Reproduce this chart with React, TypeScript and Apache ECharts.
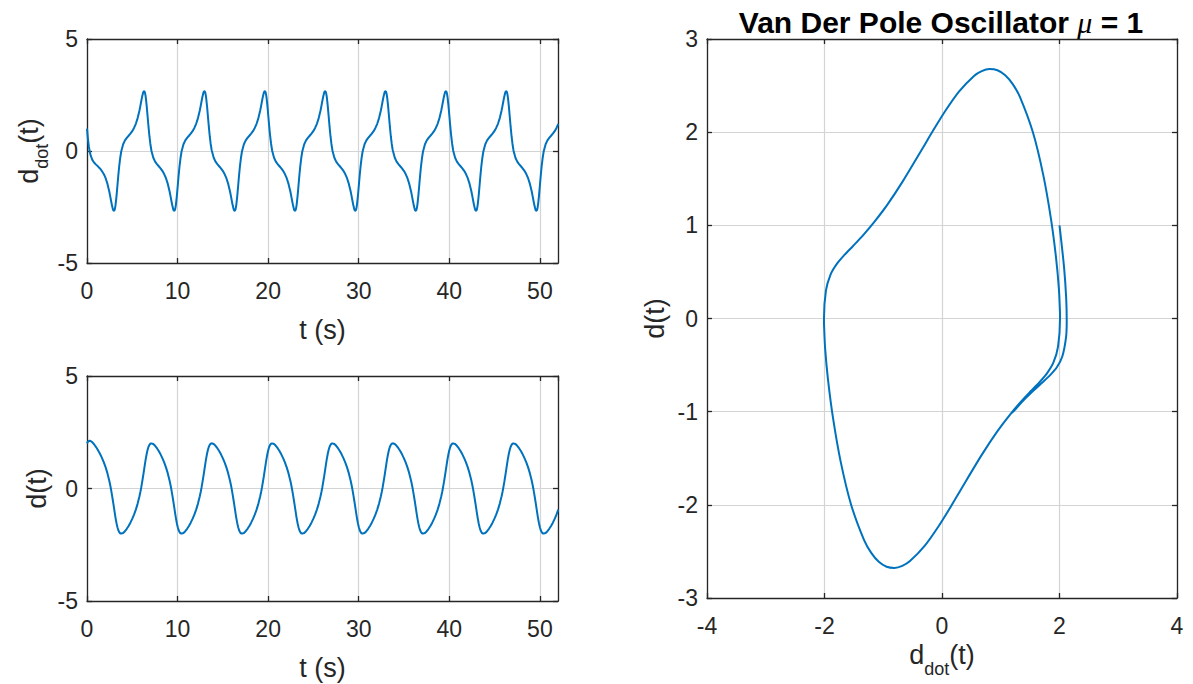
import { useEffect, useRef } from 'react';
import * as echarts from 'echarts';

// ---- data (Van der Pol, mu = 1, d(0)=2, d_dot(0)=1) ----
// start-up part of the trajectory (time, d, d_dot)
const transientT = [0, 0.1, 0.2, 0.3, 0.4, 0.6, 0.8, 1.0, 1.2, 1.4, 1.6, 1.8];
const transientD = [2.0, 2.077, 2.114, 2.123, 2.112, 2.049, 1.955, 1.841, 1.712, 1.567, 1.404, 1.218];
const transientV = [1.0, 0.554, 0.216, -0.027, -0.198, -0.406, -0.524, -0.608, -0.685, -0.768, -0.868, -0.996];

// one period of the limit cycle, phase measured from the maximum of d
const cyclePhase = [
  0, 0.2, 0.4, 0.6, 0.8, 1.0, 1.2, 1.4, 1.6, 1.8, 2.0, 2.1, 2.2, 2.3, 2.4, 2.45, 2.5, 2.55, 2.6, 2.65, 2.7, 2.8, 2.9,
  3.0, 3.1, 3.2, 3.3,
  3.332, 3.532, 3.732, 3.932, 4.132, 4.332, 4.532, 4.732, 4.932, 5.132, 5.332, 5.432, 5.532, 5.632, 5.732, 5.782,
  5.832, 5.882, 5.932, 5.982, 6.032, 6.132, 6.232, 6.332, 6.432, 6.532, 6.632,
];
const cycleD = [
  2.009, 1.975, 1.897, 1.79, 1.664, 1.518, 1.352, 1.162, 0.938, 0.671, 0.345, 0.154, -0.058, -0.292, -0.545, -0.676,
  -0.81, -0.943, -1.076, -1.204, -1.326, -1.546, -1.724, -1.854, -1.94, -1.989, -2.008,
  -2.009, -1.975, -1.897, -1.79, -1.664, -1.518, -1.352, -1.162, -0.938, -0.671, -0.345, -0.154, 0.058, 0.292,
  0.545, 0.676, 0.81, 0.943, 1.076, 1.204, 1.326, 1.546, 1.724, 1.854, 1.94, 1.989, 2.008,
];
const cycleV = [
  0, -0.301, -0.472, -0.586, -0.68, -0.776, -0.887, -1.028, -1.214, -1.469, -1.811, -2.015, -2.23, -2.438, -2.604,
  -2.656, -2.678, -2.665, -2.612, -2.516, -2.379, -2.001, -1.539, -1.073, -0.659, -0.324, -0.067,
  0, 0.301, 0.472, 0.586, 0.68, 0.776, 0.887, 1.028, 1.214, 1.469, 1.811, 2.015, 2.23, 2.438, 2.604, 2.656, 2.678,
  2.665, 2.612, 2.516, 2.379, 2.001, 1.539, 1.073, 0.659, 0.324, 0.067,
];
// times at which d reaches its maxima (start of each period)
const cycleStarts = [0.46, 7.12, 13.79, 20.45, 27.11, 33.78, 40.44, 47.1];

const tMax = 52;
const timeTicks = { min: 0, max: tMax, interval: 10 };
const phaseXTicks = { min: -4, max: 4, interval: 2 };
const phaseYTicks = { min: -3, max: 3, interval: 1 };
const timeYTicks = { min: -5, max: 5, interval: 5 };

// assemble samples (t, d, d_dot) from the tables above
const samples: [number, number, number][] = [];
transientT.forEach((t, i) => samples.push([t, transientD[i], transientV[i]]));
(() => {
  const lastT = transientT[transientT.length - 1];
  for (const s of cycleStarts) {
    for (let i = 0; i < cyclePhase.length; i++) {
      const t = +(s + cyclePhase[i]).toFixed(3);
      if (t <= lastT) continue;
      samples.push([t, cycleD[i], cycleV[i]]);
      if (t >= tMax) return;
    }
  }
})();

const ddotSeries = samples.map(([t, , v]) => [t, v]);
const dSeries = samples.map(([t, d]) => [t, d]);
const phaseSeries = samples.map(([, d, v]) => [d, v]);

const FONT = '"Liberation Sans", Arial, Helvetica, sans-serif';
const INK = '#262626';
const BLUE = '#0072BD';
const TICK_FS = 23;
const NAME_FS = 27;
const SUB_FS = 18;

const nameRich = {
  m: { fontFamily: FONT, fontSize: NAME_FS, color: INK, verticalAlign: 'top' },
  s: { fontFamily: FONT, fontSize: SUB_FS, color: INK, verticalAlign: 'top', padding: [18, 0, 0, 0] },
};

function baseAxis(extra: any) {
  return {
    type: 'value',
    axisLine: { show: true, onZero: false, lineStyle: { color: INK, width: 1.3 } },
    axisTick: { show: true, inside: true, length: 5, lineStyle: { color: INK, width: 1.3 } },
    splitLine: { show: true, lineStyle: { color: '#d4d4d4', width: 1.2 } },
    ...extra,
  };
}
function mirrorAxis(extra: any) {
  return {
    type: 'value',
    axisLine: { show: true, onZero: false, lineStyle: { color: INK, width: 1.3 } },
    axisTick: { show: true, inside: true, length: 5, lineStyle: { color: INK, width: 1.3 } },
    splitLine: { show: false },
    axisLabel: { show: false },
    ...extra,
  };
}

const xLabel = { color: INK, fontSize: TICK_FS, fontFamily: FONT, margin: 16, showMaxLabel: false };
const yLabel = { color: INK, fontSize: TICK_FS, fontFamily: FONT, margin: 9 };
const tName = { fontFamily: FONT, fontSize: NAME_FS, color: INK };

export default function App() {
  const ref = useRef<HTMLDivElement>(null);
  useEffect(() => {
    const chart = echarts.init(ref.current!, null, { renderer: 'svg' });
    chart.setOption({
      animation: false,
      backgroundColor: '#ffffff',
      title: {
        text: '{b|Van Der Pole Oscillator }{mu|μ}{b| = 1}',
        left: 941,
        top: 7,
        padding: 0,
        textAlign: 'center',
        textStyle: {
          rich: {
            b: { fontFamily: FONT, fontSize: 30, fontWeight: 'bold', color: '#000' },
            mu: { fontFamily: '"Liberation Serif", serif', fontSize: 30, fontStyle: 'italic', fontWeight: 'normal', color: '#000' },
          },
        },
      },
      grid: [
        { left: 87, top: 39, width: 471, height: 224 },
        { left: 87, top: 376, width: 471, height: 225 },
        { left: 707, top: 39, width: 470, height: 559 },
      ],
      xAxis: [
        baseAxis({ gridIndex: 0, position: 'bottom', ...timeTicks, axisLabel: xLabel, name: 't (s)', nameLocation: 'middle', nameGap: 53, nameTextStyle: tName }),
        mirrorAxis({ gridIndex: 0, position: 'top', ...timeTicks }),
        baseAxis({ gridIndex: 1, position: 'bottom', ...timeTicks, axisLabel: xLabel, name: 't (s)', nameLocation: 'middle', nameGap: 53, nameTextStyle: tName }),
        mirrorAxis({ gridIndex: 1, position: 'top', ...timeTicks }),
        baseAxis({
          gridIndex: 2, position: 'bottom', ...phaseXTicks,
          axisLabel: { ...xLabel, showMaxLabel: true },
          name: '{m|d}{s|dot}{m|(t)}', nameLocation: 'middle', nameGap: 43,
          nameTextStyle: { rich: nameRich },
        }),
        mirrorAxis({ gridIndex: 2, position: 'top', ...phaseXTicks }),
      ],
      yAxis: [
        baseAxis({
          gridIndex: 0, position: 'left', ...timeYTicks, axisLabel: yLabel,
          name: '{m|d}{s|dot}{m|(t)}', nameLocation: 'middle', nameGap: 36,
          nameTextStyle: { rich: nameRich },
        }),
        mirrorAxis({ gridIndex: 0, position: 'right', ...timeYTicks }),
        baseAxis({ gridIndex: 1, position: 'left', ...timeYTicks, axisLabel: yLabel, name: 'd(t)', nameLocation: 'middle', nameGap: 37, nameTextStyle: tName }),
        mirrorAxis({ gridIndex: 1, position: 'right', ...timeYTicks }),
        baseAxis({ gridIndex: 2, position: 'left', ...phaseYTicks, axisLabel: yLabel, name: 'd(t)', nameLocation: 'middle', nameGap: 39, nameTextStyle: tName }),
        mirrorAxis({ gridIndex: 2, position: 'right', ...phaseYTicks }),
      ],
      series: [
        { type: 'line', xAxisIndex: 0, yAxisIndex: 0, data: ddotSeries, showSymbol: false, lineStyle: { color: BLUE, width: 2 } },
        { type: 'line', xAxisIndex: 2, yAxisIndex: 2, data: dSeries, showSymbol: false, lineStyle: { color: BLUE, width: 2 } },
        { type: 'line', xAxisIndex: 4, yAxisIndex: 4, data: phaseSeries, showSymbol: false, smooth: 0.25, lineStyle: { color: BLUE, width: 2 } },
      ],
    });
    return () => chart.dispose();
  }, []);
  return (
    <div
      ref={ref}
      style={{ position: 'fixed', left: 0, top: 0, width: 1193, height: 684, background: '#ffffff' }}
    />
  );
}
